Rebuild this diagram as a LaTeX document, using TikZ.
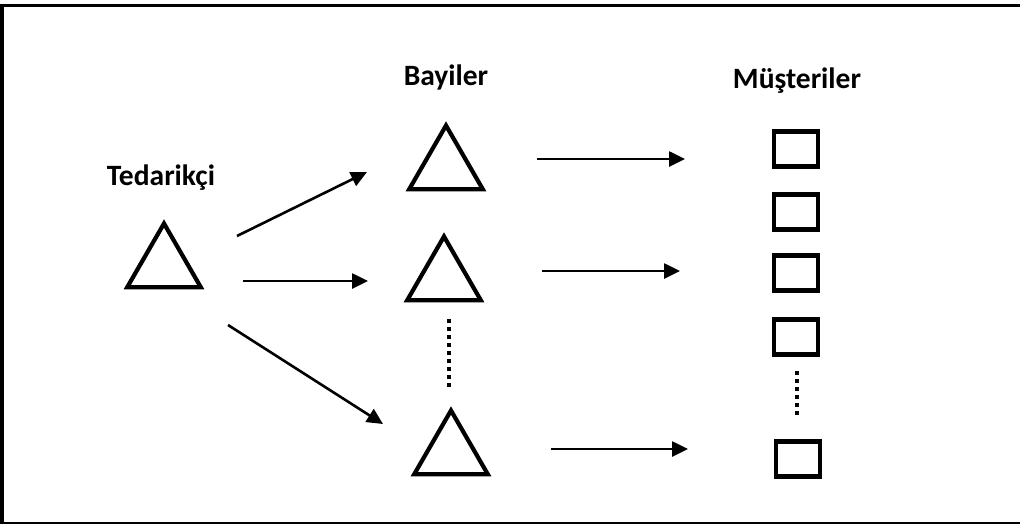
\documentclass[tikz,border=0pt]{standalone}
\usepackage{fontspec}
\setmainfont{Carlito}
\usetikzlibrary{shapes.geometric,arrows.meta}
\begin{document}
\begin{tikzpicture}[x=1pt,y=-1pt,
  tri/.style={draw,regular polygon,regular polygon sides=3,minimum size=85pt,inner sep=0pt,outer sep=0pt,line width=4.2pt},
  cust/.style={draw,rectangle,minimum width=44pt,minimum height=35pt,inner sep=0pt,line width=4.2pt},
  lbl/.style={anchor=base,font=\fontsize{29.5}{35}\selectfont\bfseries,inner sep=0pt},
  flow/.style={line width=2.6pt,-{Triangle[length=16pt,width=15pt]}},
  dotline/.style={line width=3.6pt,dash pattern=on 3.6pt off 4.4pt}]
\useasboundingbox (0,0) rectangle (1020,523);
\clip (0,0) rectangle (1020,523);
% outer frame
\draw[line width=3.5pt] (2,5.3) rectangle (1030,523.5);

% column titles
\node[lbl] (tTed) at (161,185) {Tedarikçi};
\node[lbl] (tBay) at (446,85) {Bayiler};
\node[lbl] (tMus) at (797,88) {Müşteriler};

% supplier and dealers
\node[tri] (sup) at (164,266) {};
\node[tri] (b1) at (446,168) {};
\node[tri] (b2) at (444,279) {};
\node[tri] (b3) at (451,453) {};

% customers
\node[cust] (s1) at (796,149) {};
\node[cust] (s2) at (796,212) {};
\node[cust] (s3) at (796,273) {};
\node[cust] (s4) at (796,337) {};
\node[cust] (s5) at (798,459) {};

% arrow end points
\coordinate (a1s) at (237,236);
\coordinate (a1e) at (367,172);
\coordinate (a2s) at (243,281);
\coordinate (a2e) at (368,281);
\coordinate (a3s) at (228,325);
\coordinate (a3e) at (383,424);
\coordinate (c1s) at (537,159);
\coordinate (c1e) at (685,159);
\coordinate (c2s) at (542,271);
\coordinate (c2e) at (680,271);
\coordinate (c3s) at (551,449);
\coordinate (c3e) at (688,449);

% supplier to dealers
\draw[flow] (a1s) -- (a1e);
\draw[flow] (a2s) -- (a2e);
\draw[flow] (a3s) -- (a3e);
% dealers to customers
\draw[flow] (c1s) -- (c1e);
\draw[flow] (c2s) -- (c2e);
\draw[flow] (c3s) -- (c3e);

% ellipsis dots
\coordinate (d1s) at (449,319);
\coordinate (d1e) at (449,388);
\coordinate (d2s) at (797,371);
\coordinate (d2e) at (797,416);
\draw[dotline] (d1s) -- (d1e);
\draw[dotline] (d2s) -- (d2e);
\end{tikzpicture}
\end{document}
